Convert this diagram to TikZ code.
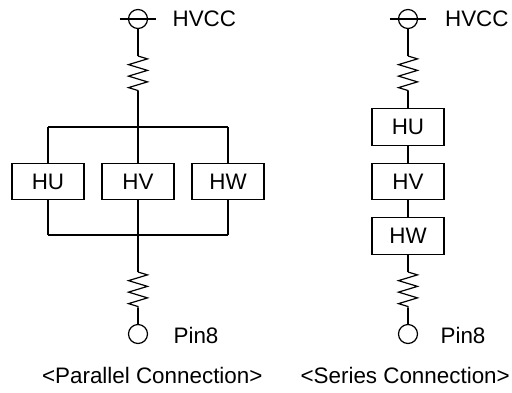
\documentclass[tikz,border=0pt]{standalone}
\usepackage{fontspec}
\setmainfont{Liberation Sans}
\usetikzlibrary{decorations.pathmorphing, positioning}
\tikzset{
    unitbox/.style={draw, minimum width=72pt, minimum height=36.5pt, inner sep=0pt},
    terminal/.style={draw, circle, minimum size=19pt, inner sep=0pt},
    labeltext/.style={anchor=base west, inner sep=0pt},
    resistor/.style={decorate, decoration={zigzag, segment length=11.5pt, amplitude=9.5pt, pre=lineto, pre length=0pt, post=lineto, post length=0pt}}
}

\begin{document}
\begin{tikzpicture}[x=1pt, y=-1pt, line width=1.2pt, font=\fontsize{22.4}{24}\selectfont]
    \useasboundingbox (0, 0) rectangle (512, 392);

    % parallel
    \node[terminal] (vcca) at (138, 19) {};
    \coordinate (barla) at (119.5, 19);
    \coordinate (barra) at (156, 19);
    \coordinate (resta) at (138, 56);
    \coordinate (resba) at (138, 91);
    \coordinate (busa) at (138, 127);
    \coordinate (busla) at (48, 127);
    \coordinate (busra) at (228, 127);
    \node[unitbox] (hua) at (48, 181.5) {HU};
    \node[unitbox] (hva) at (138, 181.5) {HV};
    \node[unitbox] (hwa) at (228, 181.5) {HW};
    \coordinate (lowa) at (138, 235);
    \coordinate (lowla) at (48, 235);
    \coordinate (lowra) at (228, 235);
    \coordinate (restb) at (138, 272);
    \coordinate (resbb) at (138, 308);
    \node[terminal] (pina) at (138, 334) {};
    \node[labeltext] (vcctexta) at (172, 26.7) {HVCC};
    \node[labeltext] (pintexta) at (173, 343.7) {Pin8};
    \node[labeltext] (captiona) at (41.5, 383.7) {<Parallel Connection>};

    \draw
    (barla) -- (barra)
    (vcca) -- (resta)
    (resba) -- (busa)
    (busla) -- (busra)
    (busla) -- (hua)
    (busa) -- (hva)
    (busra) -- (hwa)
    (hua) -- (lowla)
    (hva) -- (lowa)
    (hwa) -- (lowra)
    (lowla) -- (lowra)
    (lowa) -- (restb)
    (resbb) -- (pina);
    \draw[resistor] (resta) -- (resba);
    \draw[resistor] (restb) -- (resbb);

    % series
    \node[terminal] (vccb) at (408, 19) {};
    \coordinate (barlb) at (389.5, 19);
    \coordinate (barrb) at (426, 19);
    \coordinate (restc) at (408, 56);
    \coordinate (resbc) at (408, 91);
    \node[unitbox] (hub) at (408, 127) {HU};
    \node[unitbox] (hvb) at (408, 181.5) {HV};
    \node[unitbox] (hwb) at (408, 236) {HW};
    \coordinate (restd) at (408, 272);
    \coordinate (resbd) at (408, 308);
    \node[terminal] (pinb) at (408, 334) {};
    \node[labeltext] (vcctextb) at (444.5, 26.7) {HVCC};
    \node[labeltext] (pintextb) at (440, 343.7) {Pin8};
    \node[labeltext] (captionb) at (300, 383.7) {<Series Connection>};

    \draw
    (barlb) -- (barrb)
    (vccb) -- (restc)
    (resbc) -- (hub)
    (hub) -- (hvb)
    (hvb) -- (hwb)
    (hwb) -- (restd)
    (resbd) -- (pinb);
    \draw[resistor] (restc) -- (resbc);
    \draw[resistor] (restd) -- (resbd);
\end{tikzpicture}
\end{document}
